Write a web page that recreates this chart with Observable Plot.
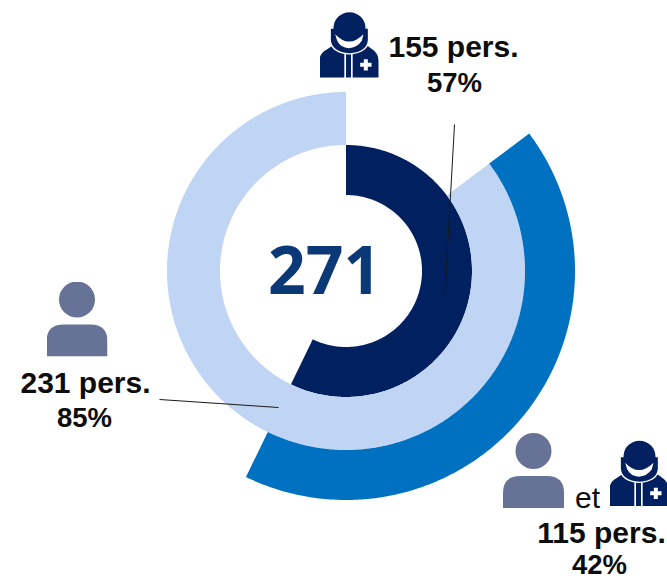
<!DOCTYPE html>
<html><head><meta charset="utf-8">
<script src="https://cdn.jsdelivr.net/npm/d3@7"></script>
<script src="https://cdn.jsdelivr.net/npm/@observablehq/plot@0.6"></script>
<style>html,body{margin:0;padding:0;background:#fff}svg{display:block}</style>
</head><body><div id="chart"></div>
<script>
const total = 271;
const seriesNames = ["Médecins", "Non-médecins", "Les deux"];
const seriesCounts = [155, 231, 115];
const seriesPercents = [57, 85, 42];
const seriesStart = [0, 40, 40];
const ringInner = [76, 126, 179];
const ringOuter = [126, 179, 229];
const ringFill = ["#002060", "#c0d4f3", "#0070c0"];
const cx = 346, cy = 271;

function ringPoints(i) {
  const a = seriesStart[i], b = a + seriesCounts[i];
  const pts = d3.range(a, b, 0.5).concat([b]);
  return pts.map(v => {
    const t = (v / total) * 2 * Math.PI;
    return {
      x1: cx + ringInner[i] * Math.sin(t), y1: cy - ringInner[i] * Math.cos(t),
      x2: cx + ringOuter[i] * Math.sin(t), y2: cy - ringOuter[i] * Math.cos(t)
    };
  });
}

const personSvg = `<svg xmlns="http://www.w3.org/2000/svg" viewBox="0 0 61 75"><g fill="#667397"><circle cx="30.5" cy="18" r="18"/><path d="M0 75V60Q0 43 17 43H44Q61 43 61 60V75Z"/></g></svg>`;
const doctorSvg = `<svg xmlns="http://www.w3.org/2000/svg" viewBox="0 0 180 201"><path fill="#002060" d="M0 198V148Q0 125 22 114L36 104H146L156 112Q177 125 177 148V198Z"/><path fill="#002060" stroke="#fff" stroke-width="4" d="M32 50H40A50 50 0 0 1 140 50H147V85Q145 124 90 127Q35 124 32 85Z"/><path fill="#fff" d="M47 68Q88 112 132 68L127 88Q112 110 88 110Q64 110 53 88Z"/><path fill="none" stroke="#fff" stroke-width="5" d="M77 127V201M97 127V201"/><path fill="#fff" d="M133 143H145V154H156V166H145V177H133V166H122V154H133Z"/></svg>`;
const uri = s => "data:image/svg+xml;charset=utf-8," + encodeURIComponent(s);

const countLabels = [
  {t: "155 pers.", x: 453, y: 47},
  {t: "231 pers.", x: 85, y: 383},
  {t: "115 pers.", x: 601, y: 533}
];
const percentLabels = [
  {t: "57%", x: 454, y: 83},
  {t: "85%", x: 84, y: 418},
  {t: "42%", x: 599, y: 565}
];
const leaders = [
  {x1: 454, y1: 124, x2: 444.5, y2: 293},
  {x1: 159, y1: 399, x2: 278, y2: 407}
];
const doctors = [
  {x: 349, y: 44.5, src: uri(doctorSvg)},
  {x: 639, y: 473, src: uri(doctorSvg)}
];
const persons = [
  {x: 76.5, y: 318.5, src: uri(personSvg)},
  {x: 533, y: 470, src: uri(personSvg)}
];

const chart = Plot.plot({
  width: 667, height: 580,
  margin: 0,
  x: {domain: [0, 667], range: [0, 667], axis: null},
  y: {domain: [0, 580], range: [0, 580], axis: null},
  style: {background: "#fff", overflow: "hidden"},
  marks: [
    ...[0, 1, 2].map(i => Plot.area(ringPoints(i), {x1: "x1", y1: "y1", x2: "x2", y2: "y2", fill: ringFill[i]})),
    Plot.link(leaders, {x1: "x1", y1: "y1", x2: "x2", y2: "y2", stroke: "#1a1a1a", strokeWidth: 1}),
    Plot.text([total], {x: () => 324, y: () => 272, text: d => String(d), fontFamily: "Noto Sans", fontWeight: 700, fontSize: 66, fill: "#0b3877"}),
    Plot.text(countLabels, {x: "x", y: "y", text: "t", fontFamily: "Liberation Sans", fontWeight: 700, fontSize: 30, fill: "#0d0d0d"}),
    Plot.text(percentLabels, {x: "x", y: "y", text: "t", fontFamily: "Liberation Sans", fontWeight: 700, fontSize: 27.5, fill: "#0d0d0d"}),
    Plot.text(["et"], {x: () => 587, y: () => 498, fontFamily: "Liberation Sans", fontSize: 30, fill: "#0d0d0d"}),
    Plot.image(doctors, {x: "x", y: "y", src: "src", width: 60, height: 67}),
    Plot.image(persons, {x: "x", y: "y", src: "src", width: 61, height: 75})
  ]
});
document.getElementById("chart").append(chart);
</script></body></html>
